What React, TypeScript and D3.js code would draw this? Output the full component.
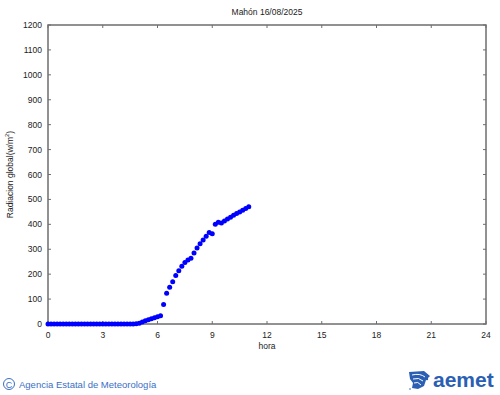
import React from "react";
import * as d3 from "d3";

const hours: number[] = [
  0, 1 / 6, 2 / 6, 3 / 6, 4 / 6, 5 / 6,
  1, 7 / 6, 8 / 6, 9 / 6, 10 / 6, 11 / 6,
  2, 13 / 6, 14 / 6, 15 / 6, 16 / 6, 17 / 6,
  3, 19 / 6, 20 / 6, 21 / 6, 22 / 6, 23 / 6,
  4, 25 / 6, 26 / 6, 27 / 6, 28 / 6, 29 / 6,
  5, 31 / 6, 32 / 6, 33 / 6, 34 / 6, 35 / 6,
  6, 37 / 6, 38 / 6, 39 / 6, 40 / 6, 41 / 6,
  7, 43 / 6, 44 / 6, 45 / 6, 46 / 6, 47 / 6,
  8, 49 / 6, 50 / 6, 51 / 6, 52 / 6, 53 / 6,
  9, 55 / 6, 56 / 6, 57 / 6, 58 / 6, 59 / 6,
  10, 61 / 6, 62 / 6, 63 / 6, 64 / 6, 65 / 6,
  11,
];

const radiation: number[] = [
  0, 0, 0, 0, 0, 0,
  0, 0, 0, 0, 0, 0,
  0, 0, 0, 0, 0, 0,
  0, 0, 0, 0, 0, 0,
  0, 0, 0, 0, 0, 1,
  3, 8, 13, 17, 21, 25,
  29, 33, 78, 123, 147, 170,
  195, 214, 232, 247, 257, 264,
  285, 305, 322, 337, 352, 367,
  362, 400, 408, 405, 413, 421,
  428, 436, 443, 450, 457, 464,
  471,
];

const xTicks: number[] = [0, 3, 6, 9, 12, 15, 18, 21, 24];
const yTicks: number[] = [0, 100, 200, 300, 400, 500, 600, 700, 800, 900, 1000, 1100, 1200];

const title = "Mahón 16/08/2025";
const xLabel = "hora";
const footer = "Agencia Estatal de Meteorología";

export default function App() {
  const W = 500;
  const H = 395;
  const left = 48;
  const right = 486;
  const top = 25;
  const bottom = 324;
  const x = d3.scaleLinear().domain([0, 24]).range([left, right]);
  const y = d3.scaleLinear().domain([0, 1200]).range([bottom, top]);
  const axisColor = "#6e6e6e";
  const textColor = "#222";
  const font = "'Liberation Sans', Arial, sans-serif";
  const tl = 3;

  const points = hours.map((h, i) => ({ h, v: radiation[i] }));

  return (
    <svg
      width={W}
      height={H}
      style={{ position: "absolute", left: 0, top: 0, background: "#fff" }}
      fontFamily={font}
    >
      <rect x={0} y={0} width={W} height={H} fill="#fff" />
      <rect
        x={left}
        y={top}
        width={right - left}
        height={bottom - top}
        fill="none"
        stroke={axisColor}
        strokeWidth={1.5}
      />
      {xTicks.map((t) => (
        <g key={"xt" + t}>
          <line x1={x(t)} x2={x(t)} y1={bottom} y2={bottom - tl} stroke={axisColor} strokeWidth={1} />
          <line x1={x(t)} x2={x(t)} y1={top} y2={top + tl} stroke={axisColor} strokeWidth={1} />
          <text x={x(t)} y={bottom + 13.5} textAnchor="middle" fontSize={8.5} fill={textColor}>
            {t}
          </text>
        </g>
      ))}
      {yTicks.map((t) => (
        <g key={"yt" + t}>
          <line x1={left} x2={left + tl} y1={y(t)} y2={y(t)} stroke={axisColor} strokeWidth={1} />
          <line x1={right} x2={right - tl} y1={y(t)} y2={y(t)} stroke={axisColor} strokeWidth={1} />
          <text x={left - 6} y={y(t) + 3} textAnchor="end" fontSize={8.5} fill={textColor}>
            {t}
          </text>
        </g>
      ))}
      <text x={(left + right) / 2} y={15} textAnchor="middle" fontSize={8.5} fill={textColor}>
        {title}
      </text>
      <text x={(left + right) / 2} y={349} textAnchor="middle" fontSize={8.5} fill={textColor}>
        {xLabel}
      </text>
      <text
        transform={`translate(13, ${(top + bottom) / 2}) rotate(-90)`}
        textAnchor="middle"
        fontSize={8.5}
        fill={textColor}
      >
        Radiacion global(w/m<tspan fontSize={6} dy={-4}>2</tspan>
        <tspan dy={4}>)</tspan>
      </text>
      {points.map((p, i) => (
        <circle key={i} cx={x(p.h)} cy={y(p.v)} r={2.5} fill="#0000ff" />
      ))}
      <circle cx={9} cy={384} r={5.5} fill="none" stroke="#3a6fc4" strokeWidth={1} />
      <text x={9} y={387.5} textAnchor="middle" fontSize={9} fill="#3a6fc4">
        C
      </text>
      <text x={19} y={388} fontSize={9.5} fill="#3a6fc4">
        {footer}
      </text>
      <g fill="#2b5fb3">
        <path d="M409,372 L424,371 L430,376 L426,380 L424,386 L418,389 L412,388 L413,383 L410,379 Z" />
        <path
          d="M412,375 Q420,373 425,377 M413,379 Q419,377 423,381 M414,383 Q418,381 421,385"
          fill="none"
          stroke="#fff"
          strokeWidth={1}
        />
        <circle cx={427} cy={379} r={1.2} />
        <circle cx={410} cy={389} r={0.8} />
        <text x={433} y={387} fontSize={21} fontWeight={900} fontFamily="'Liberation Sans', Arial, sans-serif">
          aemet
        </text>
      </g>
    </svg>
  );
}
